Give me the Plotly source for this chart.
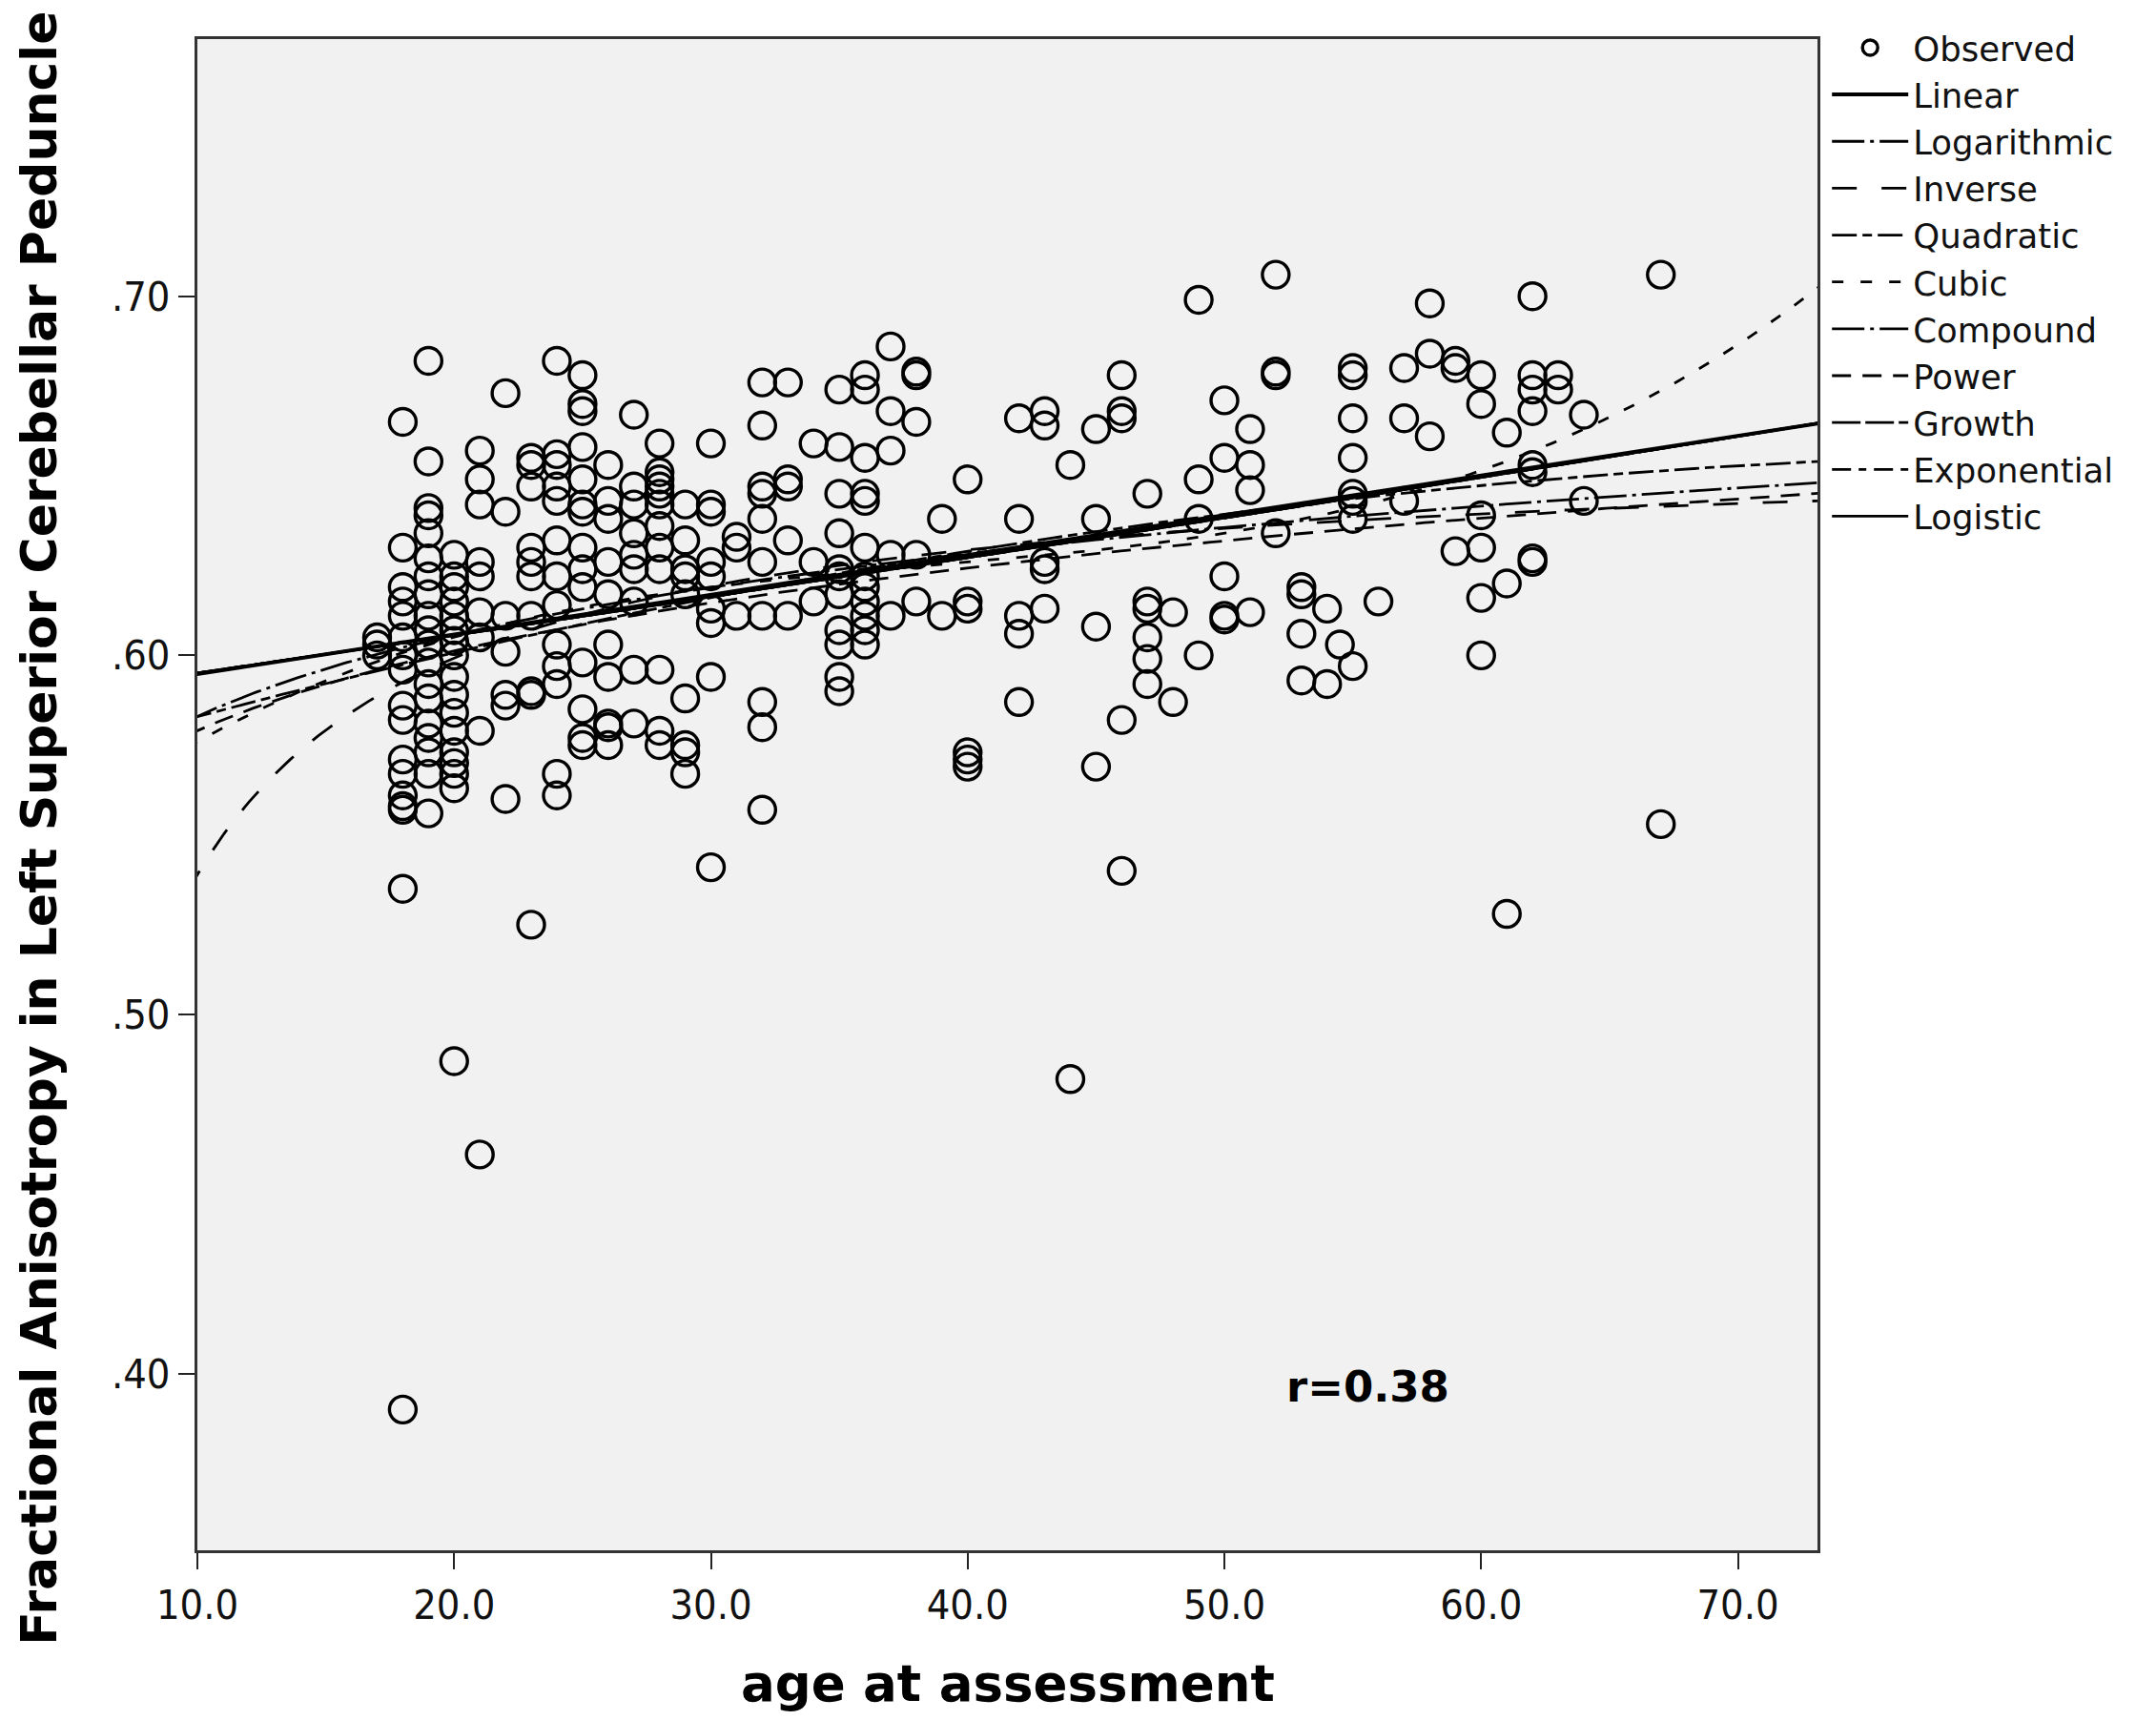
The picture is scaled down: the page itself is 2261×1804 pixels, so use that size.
import numpy as np
import plotly.graph_objects as go

# ---------------- observed data (age, FA) ----------------
obs_age = (
    [17] * 3 + [18] * 17 + [19] * 19 + [20] * 17 + [21] * 9 + [22] * 7 + [23] * 10 +
    [24] * 13 + [25] * 14 + [26] * 10 + [27] * 9 + [28] * 12 + [29] * 9 + [30] * 9 +
    [31] * 3 + [32] * 10 + [33] * 5 + [34] * 3 + [35] * 11 + [36] * 12 + [37] * 5 +
    [38] * 5 + [39] * 2 + [40] * 6 + [42] * 5 + [43] * 5 + [44] * 2 + [45] * 4 +
    [46] * 5 + [47] * 6 + [48] * 2 + [49] * 4 + [50] * 5 + [51] * 4 + [52] * 4 +
    [53] * 4 + [54] * 2 + [54.5] * 1 + [55] * 8 + [56] * 1 + [57] * 3 + [58] * 3 +
    [59] * 3 + [60] * 6 + [61] * 3 + [62] * 8 + [63] * 2 + [64] * 2 + [67] * 2
)
obs_fa = [
    0.605, 0.603, 0.600,
    0.665, 0.630, 0.619, 0.615, 0.611, 0.605, 0.600, 0.596, 0.586, 0.582, 0.571, 0.567, 0.561, 0.558, 0.557, 0.535, 0.390,
    0.682, 0.654, 0.641, 0.639, 0.634, 0.627, 0.622, 0.617, 0.611, 0.607, 0.603, 0.598, 0.592, 0.588, 0.581, 0.577, 0.573, 0.567, 0.556,
    0.628, 0.622, 0.619, 0.615, 0.611, 0.607, 0.604, 0.600, 0.594, 0.589, 0.584, 0.579, 0.573, 0.570, 0.567, 0.563, 0.487,
    0.657, 0.649, 0.642, 0.626, 0.622, 0.612, 0.605, 0.579, 0.461,
    0.673, 0.640, 0.611, 0.601, 0.586, 0.589, 0.560,
    0.655, 0.653, 0.647, 0.630, 0.626, 0.622, 0.611, 0.590, 0.589, 0.525,
    0.682, 0.656, 0.653, 0.647, 0.643, 0.632, 0.622, 0.614, 0.603, 0.597, 0.592, 0.567, 0.561,
    0.678, 0.670, 0.668, 0.658, 0.649, 0.642, 0.640, 0.630, 0.624, 0.619, 0.598, 0.585, 0.577, 0.575,
    0.653, 0.643, 0.638, 0.626, 0.617, 0.603, 0.594, 0.581, 0.580, 0.575,
    0.667, 0.647, 0.642, 0.634, 0.628, 0.624, 0.615, 0.596, 0.581,
    0.659, 0.651, 0.649, 0.647, 0.645, 0.642, 0.636, 0.630, 0.624, 0.596, 0.579, 0.575,
    0.642, 0.632, 0.624, 0.622, 0.617, 0.588, 0.575, 0.573, 0.567,
    0.659, 0.642, 0.640, 0.626, 0.622, 0.613, 0.609, 0.594, 0.541,
    0.633, 0.630, 0.611,
    0.676, 0.664, 0.647, 0.645, 0.638, 0.626, 0.611, 0.587, 0.580, 0.557,
    0.676, 0.649, 0.647, 0.632, 0.611,
    0.659, 0.626, 0.615,
    0.674, 0.658, 0.645, 0.634, 0.624, 0.622, 0.617, 0.607, 0.603, 0.594, 0.590,
    0.678, 0.674, 0.655, 0.645, 0.643, 0.630, 0.622, 0.619, 0.615, 0.611, 0.607, 0.603,
    0.686, 0.668, 0.657, 0.628, 0.611,
    0.679, 0.678, 0.665, 0.628, 0.615,
    0.638, 0.611,
    0.649, 0.615, 0.613, 0.573, 0.571, 0.569,
    0.666, 0.638, 0.611, 0.606, 0.587,
    0.668, 0.664, 0.626, 0.624, 0.613,
    0.653, 0.482,
    0.663, 0.638, 0.608, 0.569,
    0.678, 0.668, 0.666, 0.582, 0.540,
    0.645, 0.615, 0.613, 0.605, 0.599, 0.592,
    0.612, 0.587,
    0.699, 0.649, 0.638, 0.600,
    0.671, 0.655, 0.622, 0.611, 0.610,
    0.663, 0.653, 0.646, 0.612,
    0.706, 0.679, 0.678, 0.634,
    0.619, 0.617, 0.606, 0.593,
    0.613, 0.592,
    0.603,
    0.680, 0.678, 0.666, 0.655, 0.645, 0.643, 0.638, 0.597,
    0.615,
    0.680, 0.666, 0.643,
    0.698, 0.684, 0.661,
    0.682, 0.680, 0.629,
    0.678, 0.670, 0.639, 0.630, 0.616, 0.600,
    0.662, 0.620, 0.528,
    0.700, 0.678, 0.674, 0.668, 0.653, 0.651, 0.627, 0.626,
    0.678, 0.674,
    0.667, 0.643,
    0.706, 0.553,
]

# ---------------- fitted-model coefficients ----------------
linear_coef = [0.5837, 0.001106]            # b0 + b1*x
log_coef = [0.5077, 0.0327]                 # b0 + b1*ln(x)
inverse_coef = [0.6595, -1.205]             # b0 + b1/x
quadratic_coef = [0.5627, 0.002150, -1.233e-5]
cubic_coef = [0.6259, 0.006135, 0.0005956, 0.0013652]   # in u=(x-40)/10
compound_coef = [0.5847, 1.001754]          # b0 * b1**x
power_coef = [0.511, 0.0543]                # b0 * x**b1
growth_coef = [np.log(0.5847), np.log(1.001754)]   # exp(b0 + b1*x)
exponential_coef = [0.5847, 0.001753]       # b0 * exp(b1*x)
logistic_coef = [0.5847, 1.001754]

x_ticks = [10, 20, 30, 40, 50, 60, 70]
x_ticktext = ["10.0", "20.0", "30.0", "40.0", "50.0", "60.0", "70.0"]
y_ticks = [0.40, 0.50, 0.60, 0.70]
y_ticktext = [".40", ".50", ".60", ".70"]

xs = np.linspace(9.6, 73.5, 400)
u = (xs - 40) / 10
curves = [
    ("Linear", linear_coef[0] + linear_coef[1] * xs, "solid", 4),
    ("Logarithmic", log_coef[0] + log_coef[1] * np.log(xs), "34px,6px,4px,6px", 2.8),
    ("Inverse", inverse_coef[0] + inverse_coef[1] / xs, "26px,26px", 2.8),
    ("Quadratic", quadratic_coef[0] + quadratic_coef[1] * xs + quadratic_coef[2] * xs ** 2, "26px,6px,10px,6px", 2.8),
    ("Cubic", cubic_coef[0] + cubic_coef[1] * u + cubic_coef[2] * u ** 2 + cubic_coef[3] * u ** 3, "12px,18px", 2.8),
    ("Compound", compound_coef[0] * compound_coef[1] ** xs, "34px,6px,4px,6px", 2.8),
    ("Power", power_coef[0] * xs ** power_coef[1], "20px,12px", 2.8),
    ("Growth", np.exp(growth_coef[0] + growth_coef[1] * xs), "30px,5px", 2.8),
    ("Exponential", exponential_coef[0] * np.exp(exponential_coef[1] * xs), "20px,8px,8px,8px", 2.8),
    ("Logistic", 1 / (1 / 1e9 + (1 / logistic_coef[0]) * (1 / logistic_coef[1]) ** xs), "solid", 2.8),
]

fig = go.Figure()
fig.add_trace(go.Scatter(
    x=obs_age, y=obs_fa, mode="markers", name="Observed",
    marker=dict(symbol="circle-open", size=28, color="black", line=dict(width=3.4, color="black")),
))
for name, ys, dash, w in curves:
    fig.add_trace(go.Scatter(x=xs, y=ys, mode="lines", name=name,
                             line=dict(color="black", width=w, dash=dash)))

axis_font = dict(family="DejaVu Sans Condensed, Liberation Sans Narrow, Liberation Sans", size=43, color="#111")
fig.update_xaxes(range=[10, 73.1], tickvals=x_ticks, ticktext=x_ticktext, ticks="outside",
                 ticklen=17, tickwidth=2, tickcolor="#222", showline=True, linewidth=3,
                 linecolor="#333", mirror=True, showgrid=False, zeroline=False,
                 tickfont=axis_font)
fig.update_yaxes(range=[0.3508, 0.7716], tickvals=y_ticks, ticktext=y_ticktext, ticks="outside",
                 ticklen=17, tickwidth=2, tickcolor="#222", showline=True, linewidth=3,
                 linecolor="#333", mirror=True, showgrid=False, zeroline=False,
                 tickfont=axis_font)

fig.add_annotation(text="<b>age at assessment</b>", xref="paper", yref="paper",
                   x=0.5, y=-0.0880, showarrow=False,
                   font=dict(family="DejaVu Sans", size=53, color="black"),
                   xanchor="center", yanchor="middle")
fig.add_annotation(text="<b>Fractional Anisotropy in Left Superior Cerebellar Peduncle</b>",
                   xref="paper", yref="paper", x=-0.0975, y=0.478, textangle=-90,
                   showarrow=False, font=dict(family="DejaVu Sans", size=52, color="black"),
                   xanchor="center", yanchor="middle")
fig.add_annotation(text="<b>r=0.38</b>", x=55.6, y=0.3962, showarrow=False,
                   font=dict(family="DejaVu Sans", size=45, color="black"))

fig.update_layout(
    width=2261, height=1804,
    margin=dict(l=199, r=363, t=28, b=186),
    plot_bgcolor="#f1f1f1", paper_bgcolor="white",
    legend=dict(x=1.006, y=1.013, xanchor="left", yanchor="top",
                font=dict(family="DejaVu Sans", size=35.5, color="#111"),
                bgcolor="rgba(0,0,0,0)", itemwidth=80, tracegroupgap=0),
    showlegend=True,
)

fig.write_html("out.html")
